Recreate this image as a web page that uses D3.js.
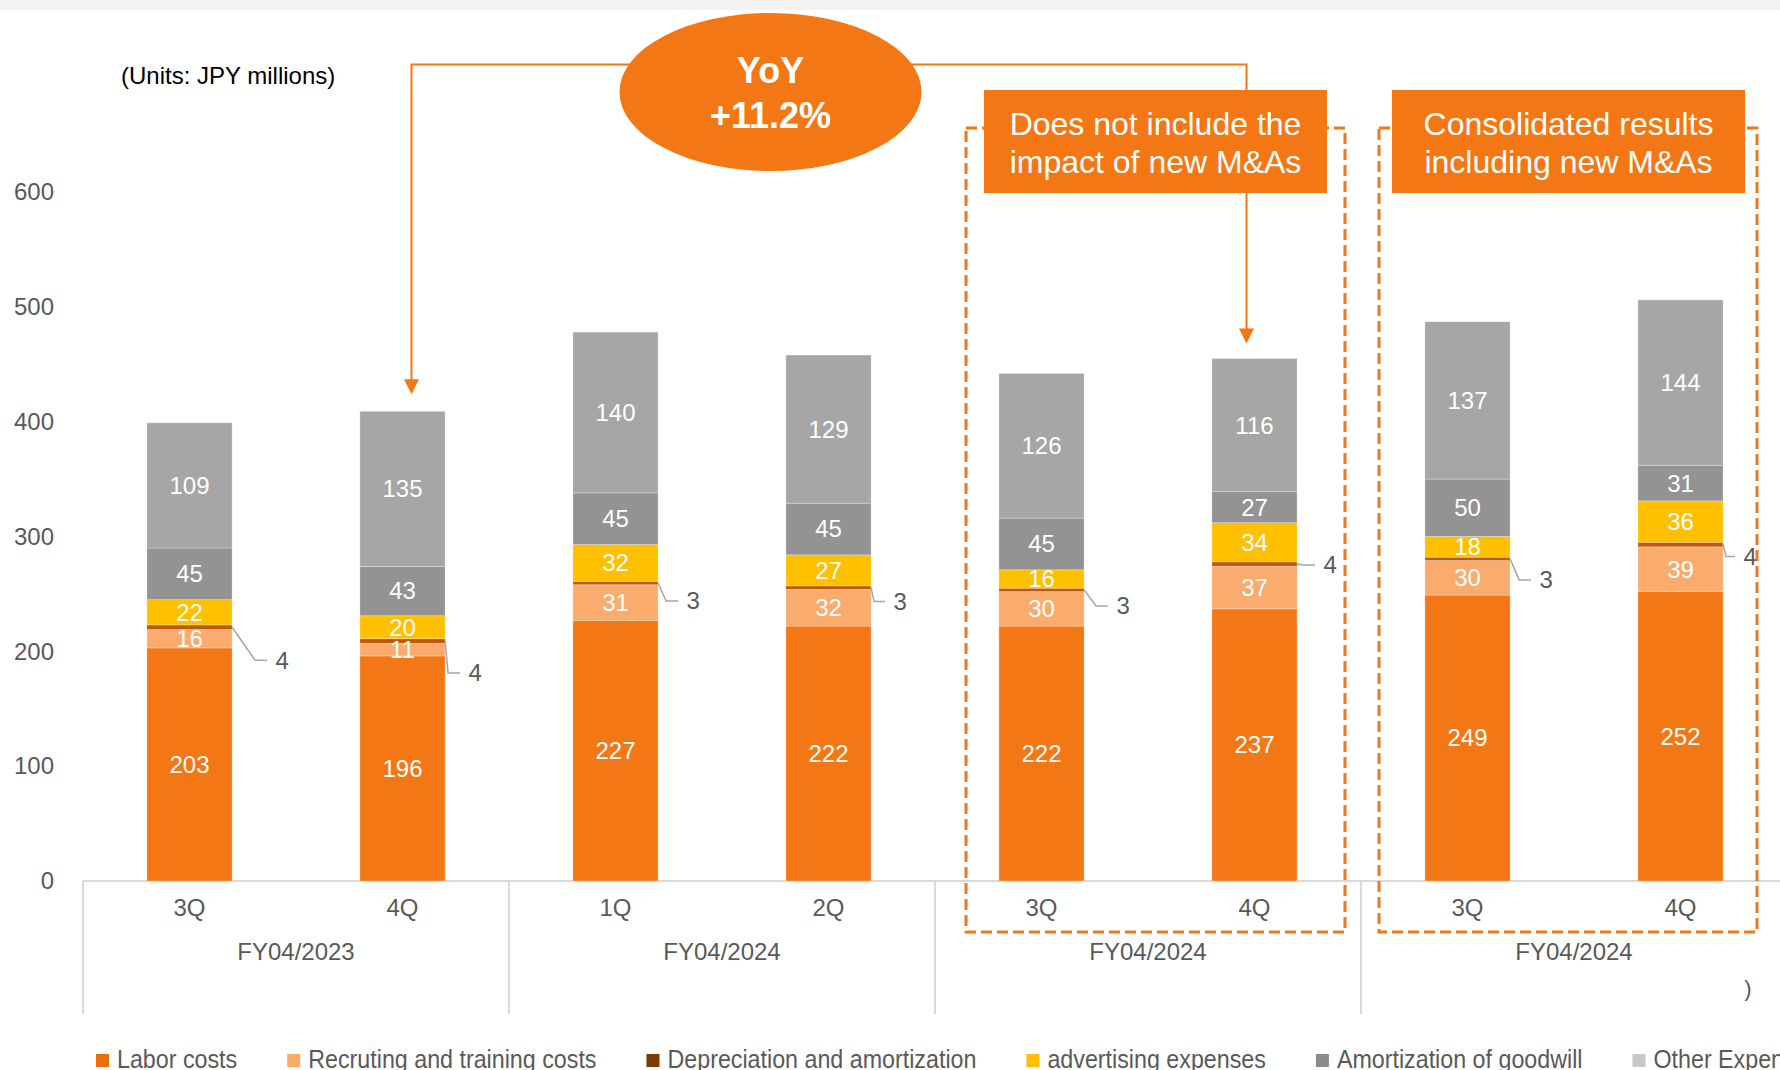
<!DOCTYPE html>
<html>
<head>
<meta charset="utf-8">
<script src="https://cdn.jsdelivr.net/npm/d3@7"></script>
<style>
  body { margin: 0; background: #fff; }
  svg { display: block; font-family: "Liberation Sans", Arial, sans-serif; }
</style>
</head>
<body>
<svg id="chart" width="1780" height="1070"></svg>
<script>
// ---- data (JPY millions) ----
const quarters = ["3Q", "4Q", "1Q", "2Q", "3Q", "4Q", "3Q", "4Q"];
const fiscalGroups = ["FY04/2023", "FY04/2024", "FY04/2024", "FY04/2024"];
const laborCosts         = [203, 196, 227, 222, 222, 237, 249, 252];
const recruitingCosts    = [16, 11, 31, 32, 30, 37, 30, 39];
const depreciation       = [4, 4, 3, 3, 3, 4, 3, 4];
const advertising        = [22, 20, 32, 27, 16, 34, 18, 36];
const goodwillAmort      = [45, 43, 45, 45, 45, 27, 50, 31];
const otherExpenses      = [109, 135, 140, 129, 126, 116, 137, 144];
const seriesNames = ["Labor costs", "Recruting and training costs", "Depreciation and amortization",
                     "advertising expenses", "Amortization of goodwill", "Other Expenses"];
const yTicks = [0, 100, 200, 300, 400, 500, 600];
const yoyText = ["YoY", "+11.2%"];
const noteExcl = ["Does not include the", "impact of new M&As"];
const noteIncl = ["Consolidated results", "including new M&As"];

// ---- styling ----
const keys = ["labor", "recruit", "dep", "adv", "goodwill", "other"];
const barColors    = ["#F47715", "#F9AC6E", "#BF580C", "#FFC000", "#939393", "#A6A6A6"];
const legendColors = ["#E8700C", "#FBAA6A", "#7A3A00", "#FFC000", "#8C8C8C", "#C8C8C8"];
const orange = "#F47715";
const textGray = "#595959";
// depreciation call-out placement: [dx from bar edge to label centre, dy from segment]
const depLabelOffsets = [[50, 33], [30, 32], [35, 18], [29, 14], [39, 16], [33, 1], [36, 21], [27, 12]];

const svg = d3.select("#chart");
const W = 1780, H = 1070;

const rows = quarters.map((q, i) => ({
  labor: laborCosts[i], recruit: recruitingCosts[i], dep: depreciation[i],
  adv: advertising[i], goodwill: goodwillAmort[i], other: otherExpenses[i]
}));
const stacked = d3.stack().keys(keys)(rows);
const totals = rows.map(r => keys.reduce((s, k) => s + r[k], 0));

const x = d3.scaleBand().domain(d3.range(quarters.length))
  .range([83, 83 + 213 * quarters.length]).paddingInner(0.6).paddingOuter(0.3);
const y = d3.scaleLinear().domain([0, 600]).range([881, 192]);
const bw = x.bandwidth();
const cellLeft = i => x(i) - (x.step() - bw) / 2;

// top band
svg.append("rect").attr("x", 0).attr("y", 0).attr("width", W).attr("height", 10).attr("fill", "#F2F2F2");

// units note
svg.append("text").attr("x", 121).attr("y", 76).attr("dy", "0.35em")
  .attr("font-size", 24).attr("fill", "#000").text("(Units: JPY millions)");

// y axis
const yAxis = svg.append("g").attr("transform", "translate(60,0)")
  .call(d3.axisLeft(y).tickValues(yTicks).tickSize(0).tickPadding(6));
yAxis.select(".domain").remove();
yAxis.selectAll("text").attr("font-size", 24).attr("fill", textGray)
  .attr("font-family", "Liberation Sans, Arial, sans-serif");

// category axis: baseline, quarter ticks and group separators
svg.append("line").attr("x1", cellLeft(0)).attr("x2", W).attr("y1", y(0)).attr("y2", y(0))
  .attr("stroke", "#D9D9D9").attr("stroke-width", 2);
const xAxis = svg.append("g").attr("transform", `translate(0,${y(0)})`)
  .call(d3.axisBottom(x).tickFormat(i => quarters[i]).tickSize(0));
xAxis.select(".domain").remove();
xAxis.selectAll("text").attr("y", 27).attr("dy", "0.35em").attr("font-size", 24).attr("fill", textGray)
  .attr("font-family", "Liberation Sans, Arial, sans-serif");

fiscalGroups.forEach((g, gi) => {
  const left = cellLeft(gi * 2);
  svg.append("line").attr("x1", left).attr("x2", left).attr("y1", y(0)).attr("y2", 1014)
    .attr("stroke", "#D9D9D9").attr("stroke-width", 2);
  svg.append("text").attr("x", left + x.step()).attr("y", 952).attr("dy", "0.35em")
    .attr("text-anchor", "middle").attr("font-size", 24).attr("fill", textGray).text(g);
});

// stacked bars
const layers = svg.append("g").selectAll("g").data(stacked).join("g")
  .attr("fill", (d, i) => barColors[i]);
layers.selectAll("rect").data(d => d).join("rect")
  .attr("x", (d, i) => x(i)).attr("width", bw)
  .attr("y", d => y(d[1])).attr("height", d => y(d[0]) - y(d[1]))
  .attr("stroke", "#fff").attr("stroke-opacity", 0.35).attr("stroke-width", 0.8);

// value labels inside segments
stacked.forEach((layer, li) => {
  if (keys[li] === "dep") return;
  svg.append("g").selectAll("text").data(layer).join("text")
    .attr("x", (d, i) => x(i) + bw / 2).attr("y", d => y((d[0] + d[1]) / 2)).attr("dy", "0.35em")
    .attr("text-anchor", "middle").attr("font-size", 24).attr("fill", "#fff")
    .text(d => d[1] - d[0]);
});

// depreciation call-outs with leader lines
const depLayer = stacked[keys.indexOf("dep")];
depLayer.forEach((d, i) => {
  const sx = x(i) + bw, sy = y((d[0] + d[1]) / 2);
  const [dx, dy] = depLabelOffsets[i];
  const lx = sx + dx, ly = sy + dy;
  const labelLeft = lx - 7;
  const bend = Math.max(sx + 3, labelLeft - 20);
  svg.append("path")
    .attr("d", `M${sx},${sy}L${bend},${ly}L${labelLeft - 8},${ly}`)
    .attr("fill", "none").attr("stroke", "#A6A6A6").attr("stroke-width", 1.5);
  svg.append("text").attr("x", lx).attr("y", ly).attr("dy", "0.35em").attr("text-anchor", "middle")
    .attr("font-size", 24).attr("fill", textGray).text(d[1] - d[0]);
});

// dashed frames around the 3Q/4Q comparisons
const dashed = [[966, 1345], [1379, 1757]];
dashed.forEach(([x0, x1]) => {
  svg.append("rect").attr("x", x0).attr("y", 128).attr("width", x1 - x0).attr("height", 932 - 128)
    .attr("fill", "none").attr("stroke", orange).attr("stroke-width", 3).attr("stroke-dasharray", "11,5");
});

// YoY connector arrows
const lineY = 64.5;
const arrowL = x(1) + bw / 2 + 9, arrowR = x(5) + bw / 2 - 8;
const tipL = y(totals[1]) - 17, tipR = y(totals[5]) - 15;
svg.append("path")
  .attr("d", `M${arrowL},${tipL - 12}L${arrowL},${lineY}L${arrowR},${lineY}L${arrowR},${tipR - 12}`)
  .attr("fill", "none").attr("stroke", orange).attr("stroke-width", 2);
[[arrowL, tipL], [arrowR, tipR]].forEach(([ax, ty]) => {
  svg.append("path").attr("d", `M${ax},${ty}L${ax - 7.5},${ty - 15}L${ax + 7.5},${ty - 15}Z`).attr("fill", orange);
});

// YoY bubble
svg.append("ellipse").attr("cx", 770.5).attr("cy", 92).attr("rx", 151).attr("ry", 79).attr("fill", orange);
svg.append("text").attr("x", 770.5).attr("y", 70).attr("dy", "0.35em").attr("text-anchor", "middle")
  .attr("font-size", 36).attr("font-weight", "bold").attr("fill", "#fff").text(yoyText[0]);
svg.append("text").attr("x", 770.5).attr("y", 115).attr("dy", "0.35em").attr("text-anchor", "middle")
  .attr("font-size", 36).attr("font-weight", "bold").attr("fill", "#fff").text(yoyText[1]);

// note boxes
[[984, 1327, noteExcl], [1392, 1745, noteIncl]].forEach(([x0, x1, lines]) => {
  svg.append("rect").attr("x", x0).attr("y", 90).attr("width", x1 - x0).attr("height", 103).attr("fill", orange);
  lines.forEach((t, k) => {
    svg.append("text").attr("x", (x0 + x1) / 2).attr("y", 124 + k * 38).attr("dy", "0.35em")
      .attr("text-anchor", "middle").attr("font-size", 32).attr("fill", "#fff").text(t);
  });
});

// stray bracket at lower right
svg.append("text").attr("x", 1748).attr("y", 988).attr("dy", "0.35em").attr("text-anchor", "middle")
  .attr("font-size", 22).attr("fill", textGray).text(")");

// legend row (condensed text)
const legend = svg.append("g");
const squeeze = 0.895;
let lx = 96;
seriesNames.forEach((name, i) => {
  legend.append("rect").attr("x", lx).attr("y", 1054).attr("width", 13).attr("height", 13).attr("fill", legendColors[i]);
  const t = legend.append("text")
    .attr("transform", `translate(${lx + 21},1068) scale(${squeeze},1)`)
    .attr("font-size", 26).attr("fill", textGray).text(name);
  lx += 21 + t.node().getComputedTextLength() * squeeze + 50;
});
</script>
</body>
</html>
